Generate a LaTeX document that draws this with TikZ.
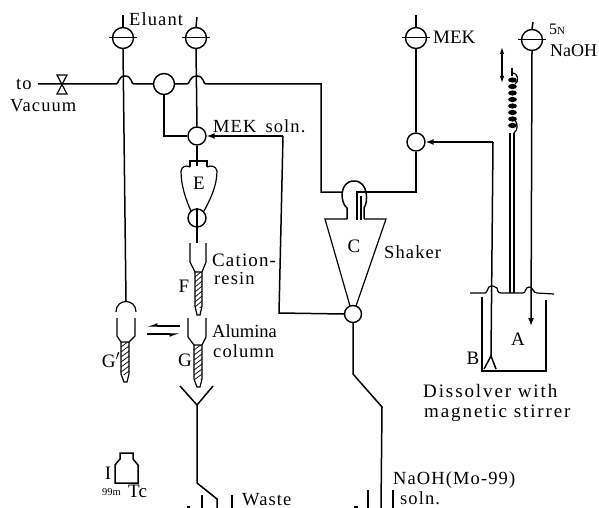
\documentclass[tikz,border=0pt]{standalone}
\usepackage{fontspec}
\setmainfont{Liberation Serif}
\newfontfamily\widefont[LetterSpace=6]{Liberation Serif}
\newfontfamily\widerfont[LetterSpace=10]{Liberation Serif}
\usetikzlibrary{arrows.meta}
\tikzset{
  x=1pt,y=-1pt,
  pipe/.style={line width=1.5pt,line join=miter},
  thin wall/.style={line width=1.2pt},
  vlv/.style={circle,draw,line width=1.4pt,inner sep=0pt,fill=white},
  big/.style={vlv,minimum size=21pt},
  mid/.style={vlv,minimum size=18pt},
  lab/.style={inner sep=0pt,anchor=base west,font=\fontsize{18.5}{20}\widefont},
  wlab/.style={inner sep=0pt,anchor=base west,font=\fontsize{19}{21}\widerfont},
  cl/.style={inner sep=0pt,font=\fontsize{19}{21}\selectfont},
  tip/.style={-{Latex[length=8pt,width=6pt]}},
}
\newcommand{\hatchcol}[4]{%
  \begin{scope}
    \clip (#1,#3) rectangle (#2,#4);
    \foreach \yy in {-6,-1,...,46} {\draw[line width=.7pt] (#1,#3+\yy+6) -- (#2,#3+\yy);}
  \end{scope}
}
\begin{document}
\begin{tikzpicture}
\useasboundingbox (0,0) rectangle (599,508);
\clip (0,0) rectangle (599,508);
% valves
\node[big] (v1) at (123,38) {};
\node[big] (v2) at (196,38) {};
\node[big] (v3) at (416,38) {};
\node[big] (v4) at (532,40) {};
\foreach \v in {v1,v2,v3,v4} {\draw[line width=1pt] ([xshift=-3pt]\v.west) -- ([xshift=3pt]\v.east);}
\coordinate (s1) at (123,15); \coordinate (s2) at (197,17); \coordinate (s3) at (416,15); \coordinate (s4) at (533,22);
\draw[pipe] (s1) -- (v1.north); \draw[pipe] (s2) -- (v2.north);
\draw[pipe] (s3) -- (v3.north); \draw[pipe] (s4) -- (v4.north);
% junctions
\node[vlv,minimum size=21pt] (n1) at (164,84) {};
\node[mid] (n2) at (197,136) {};
\node[mid] (n3) at (416,142) {};
\node[vlv,minimum size=17pt] (n4) at (353,314) {};
\node[mid] (n5) at (197,218) {};
% vacuum line
\coordinate (vs) at (38,84);
\coordinate (bow) at (62,84);
\coordinate (h1a) at (116,84); \coordinate (h1b) at (134,84);
\coordinate (h2a) at (187,84); \coordinate (h2b) at (206,84);
\coordinate (c1) at (321,84); \coordinate (c2) at (321,192);
\draw[pipe] (vs) -- (h1a) .. controls (119,84) and (118,76) .. (125,76) .. controls (132,76) and (131,84) .. (h1b) -- (n1.west);
\draw[pipe] (n1.east) -- (h2a) .. controls (190,84) and (189,76) .. (197,76) .. controls (204,76) and (203,84) .. (h2b) -- (c1) -- (c2) -- (342,192);
\draw[line width=1.2pt] (57,75) -- (67,75) -- (57,94) -- (67,94) -- cycle;
% vertical lines
\coordinate (gtop) at (126,302);
\draw[pipe] (v1.south) -- (gtop);
\draw[pipe] (v2.south) -- (n2.north);
\draw[pipe] (v3.south) -- (n3.north);
% n1 to n2
\coordinate (c3) at (164,136);
\draw[pipe] (n1.south) -- (c3) -- (n2.west);
% shaker return
\coordinate (c4) at (279,313); \coordinate (c5) at (283,136);
\draw[pipe] (n4.west) -- (c4) -- (c5);
\draw[pipe,tip] (c5) -- (n2.east);
% E vessel
\coordinate (etube) at (197,166);
\draw[pipe] (n2.south) -- (etube);
\draw[thin wall] (190,167) -- (190,161) -- (207,161) -- (207,167);
\draw[thin wall] (190,167) .. controls (186,165) and (182,166) .. (181,171) .. controls (181,186) and (186,200) .. (191,211);
\draw[thin wall] (207,167) .. controls (211,165) and (216,166) .. (217,171) .. controls (217,186) and (210,200) .. (204,211);
\node[cl] (labE) at (199,183) {E};
\coordinate (e5) at (197,243);
\draw[pipe] (n5.north) -- (e5);
% F column
\draw[thin wall] (190,243) -- (190,262) -- (195,272);
\draw[thin wall] (206,243) -- (206,262) -- (202,272);
\hatchcol{195}{202}{272}{307}
\draw[thin wall] (195,272) -- (202,272) -- (202,306) -- (200,315) -- (197,315) -- (195,306) -- cycle;
% G column
\draw[thin wall] (188,318) -- (188,337) -- (194,345);
\draw[thin wall] (206,318) -- (206,337) -- (202,345);
\hatchcol{194}{202}{345}{379}
\draw[thin wall] (194,345) -- (202,345) -- (202,379) -- (200,387) -- (197,387) -- (194,379) -- cycle;
% G' column
\draw[thin wall] (116,312) .. controls (116,298) and (136,298) .. (136,312);
\draw[thin wall] (117,318) -- (117,336) -- (121,342);
\draw[thin wall] (135,318) -- (135,336) -- (129,342);
\hatchcol{121}{129}{342}{374}
\draw[thin wall] (121,342) -- (129,342) -- (129,374) -- (127,382) -- (124,382) -- (121,374) -- cycle;
% exchange arrows
\coordinate (xa) at (180,326); \coordinate (xb) at (147,326);
\coordinate (xc) at (147,334); \coordinate (xd) at (180,334);
\draw[line width=1.2pt,-{Latex[length=8pt,width=6pt,right]}] (xa) -- (xb);
\draw[line width=1.2pt,-{Latex[length=8pt,width=6pt,right]}] (xc) -- (xd);
% funnel and waste line
\coordinate (y0) at (197,405);
\coordinate (y1) at (197,483); \coordinate (y2) at (217,499); \coordinate (y3) at (217,508);
\draw[pipe] (180,386) -- (y0) -- (213,386);
\draw[pipe] (y0) -- (y1) -- (y2) -- (y3);
\draw[thin wall] (202,495) -- (202,508);
\draw[thin wall] (232,495) -- (232,508);
\draw[thin wall] (187,507) -- (190,507);
% shaker C
\draw[thin wall] (347,219) -- (325,219) -- (350,306);
\draw[thin wall] (364,219) -- (386,219) -- (356,306);
\draw[pipe] (347,219) -- (347,208) .. controls (340,203) and (339,181) .. (354,181) .. controls (369,181) and (368,203) .. (364,208) -- (364,219);
\coordinate (c6) at (357,192); \coordinate (c7) at (416,192);
\draw[thin wall] (357,220) -- (c6) -- (c7);
\draw[thin wall] (361,220) -- (361,196);
\draw[pipe] (n3.south) -- (c7) -- (c6);
% n4 down
\coordinate (d1) at (353,374); \coordinate (d2) at (382,407); \coordinate (d3) at (381,508);
\draw[pipe] (n4.south) -- (d1) -- (d2) -- (d3);
\draw[thin wall] (368,490) -- (368,508);
\draw[thin wall] (393,490) -- (393,508);
\draw[thin wall] (354,507) -- (358,507);
% dissolver
\draw[pipe] (482,297) -- (482,371) -- (546,371) -- (546,300);
\draw[thin wall] (470,293) -- (485,293) .. controls (488,293) and (487,286) .. (491,286) .. controls (495,286) and (494,287) .. (497,288) .. controls (498,293) and (499,293) .. (501,293) -- (523,293) .. controls (526,293) and (525,287) .. (529,287) .. controls (533,287) and (533,293) .. (537,293) -- (554,294);
\coordinate (b0) at (493,142); \coordinate (b1) at (491,356);
\draw[pipe,tip] (b0) -- (n3.east);
\draw[pipe] (b0) -- (b1);
\draw[pipe] (484,369) -- (b1) -- (496,369);
\coordinate (a1) at (531,326);
\draw[pipe,tip] (v4.south) -- (a1);
% stirrer
\draw[thin wall] (510,133) -- (510,293);
\draw[thin wall] (514,133) -- (514,293);
\draw[line width=1.1pt] (512,68) -- (512,76);
\draw[thin wall] (512,73) .. controls (519,73) and (519,82) .. (515,84);
\foreach \yy in {80,86.5,...,130} {\fill (512.5,\yy) ellipse [x radius=4.4pt,y radius=2.6pt];}
\draw[thin wall] (515,120) .. controls (518,124) and (518,130) .. (514,133);
\coordinate (u1) at (502,47); \coordinate (u2) at (502,83);
\draw[line width=1.2pt,{Latex[length=7pt,width=4.5pt]}-{Latex[length=7pt,width=4.5pt]}] (u1) -- (u2);
% bottle
\draw[pipe] (115,483) -- (115,465) -- (120,459) -- (120,453) -- (133,453) -- (133,459) -- (138,465) -- (138,483) -- cycle;
% labels
\node[lab] (t1) at (16,90) {to};
\node[lab] (t2) at (10,112) {Vacuum};
\node[lab] (t3) at (129,26) {Eluant};
\node[lab] (t4) at (213,132) {MEK\hspace{9pt}soln.};
\node[lab,font=\fontsize{19}{21}\widefont] (t5) at (212,266) {Cation-};
\node[lab] (t6) at (214,284) {resin};
\node[cl] (labF) at (184,286) {F};
\node[lab,font=\fontsize{18.5}{20}\selectfont] (t7) at (212,337) {Alumina};
\node[lab] (t8) at (213,357) {column};
\node[cl] (labG) at (185,360) {G};
\node[cl] (labGp) at (111,360) {G$'$};
\node[cl] (labC) at (354,246) {C};
\node[lab] (t9) at (384,258) {Shaker};
\node[lab,font=\fontsize{19}{21}\selectfont] (t10) at (433,44) {MEK};
\node[lab,font=\fontsize{16}{18}\selectfont] (t11) at (549,35) {5{\fontsize{11}{13}\selectfont N}};
\node[lab,font=\fontsize{18}{20}\selectfont] (t12) at (550,57) {NaOH};
\node[cl] (labA) at (518,339) {A};
\node[cl] (labB) at (473,358) {B};
\node[wlab] (t13) at (423,397) {Dissolver with};
\node[wlab] (t14) at (424,417) {magnetic stirrer};
\node[cl] (labI) at (108,473) {I};
\node[lab,font=\fontsize{10.5}{13}\selectfont] (t15) at (102,495) {99m};
\node[lab,font=\fontsize{19}{21}\selectfont] (t16) at (128,497) {Tc};
\node[lab] (t17) at (242,505) {Waste};
\node[lab,font=\fontsize{18.5}{21}\widefont] (t18) at (393,484) {NaOH(Mo-99)};
\node[lab] (t19) at (400,504.5) {soln.};
\end{tikzpicture}
\end{document}
